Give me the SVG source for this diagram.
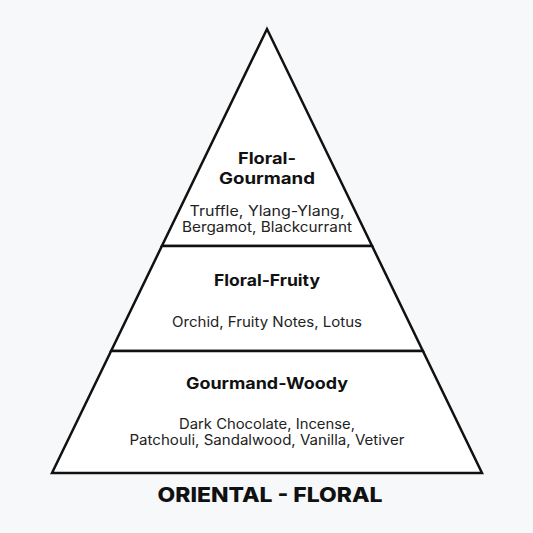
<svg xmlns="http://www.w3.org/2000/svg" width="533" height="533" viewBox="0 0 533 533">
<style>
.tier{fill:#fff;stroke:#111;stroke-width:2.5;stroke-linejoin:miter}
text{font-family:Inter,"Open Sans",sans-serif;text-anchor:middle}
.h{font-weight:700;font-size:16px;fill:#111}
.t{font-weight:400;font-size:14px;fill:#222}
.title{font-weight:800;font-size:20.5px;fill:#111}
</style>
<rect width="533" height="533" fill="#f7f8fa"/>
<g id="connectors"></g>
<g id="top">
<polygon class="tier" points="267,29 161.9,246 372.1,246"/>
<text class="h" x="267" y="164" textLength="58" lengthAdjust="spacingAndGlyphs">Floral-</text>
<text class="h" x="267" y="183.5" textLength="96" lengthAdjust="spacingAndGlyphs">Gourmand</text>
<text class="t" x="267" y="216" textLength="155" lengthAdjust="spacingAndGlyphs">Truffle, Ylang-Ylang,</text>
<text class="t" x="267" y="232" textLength="170" lengthAdjust="spacingAndGlyphs">Bergamot, Blackcurrant</text>
</g>
<g id="middle">
<polygon class="tier" points="161.9,246 372.1,246 422.9,351 111.1,351"/>
<text class="h" x="267" y="286" textLength="106" lengthAdjust="spacingAndGlyphs">Floral-Fruity</text>
<text class="t" x="267" y="327" textLength="190" lengthAdjust="spacingAndGlyphs">Orchid, Fruity Notes, Lotus</text>
</g>
<g id="bottom">
<polygon class="tier" points="111.1,351 422.9,351 482,473 52,473"/>
<text class="h" x="267" y="389" textLength="162" lengthAdjust="spacingAndGlyphs">Gourmand-Woody</text>
<text class="t" x="267" y="428.5" textLength="176" lengthAdjust="spacingAndGlyphs">Dark Chocolate, Incense,</text>
<text class="t" x="267" y="445" textLength="275" lengthAdjust="spacingAndGlyphs">Patchouli, Sandalwood, Vanilla, Vetiver</text>
</g>
<g id="title">
<text class="title" x="270" y="502" textLength="225" lengthAdjust="spacingAndGlyphs">ORIENTAL - FLORAL</text>
</g>
</svg>
